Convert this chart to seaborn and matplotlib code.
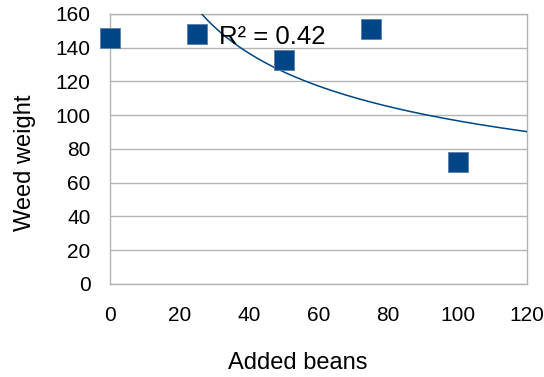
import numpy as np
import pandas as pd
import seaborn as sns
import matplotlib.pyplot as plt

# data
added_beans = [0, 25, 50, 75, 100]
weed_weight = [146, 148, 133, 151, 72]
x_ticks = [0, 20, 40, 60, 80, 100, 120]
y_ticks = [0, 20, 40, 60, 80, 100, 120, 140, 160]

blue = "#004586"
grey = "#b3b3b3"

sns.set_theme(style="white")
plt.rcParams['font.family'] = ['Liberation Sans', 'DejaVu Sans']

df = pd.DataFrame({"Added beans": added_beans, "Weed weight": weed_weight})

# power trendline y = a * x^b (fit on x > 0, like the spreadsheet does)
fit = df[df["Added beans"] > 0]
lx = np.log(fit["Added beans"].to_numpy(float))
ly = np.log(fit["Weed weight"].to_numpy(float))
b, lna = np.polyfit(lx, ly, 1)
r2 = np.corrcoef(lx, ly)[0, 1] ** 2
xs = np.linspace(1, 120, 400)
trend = pd.DataFrame({"x": xs, "y": np.exp(lna) * xs ** b})

fig = plt.figure(figsize=(5.44, 3.77), dpi=100)
ax = fig.add_axes([0.2022, 0.2467, 0.7666, 0.7162])

sns.lineplot(data=trend, x="x", y="y", color=blue, linewidth=1.1, ax=ax, zorder=3)
sns.scatterplot(data=df, x="Added beans", y="Weed weight", marker="s", s=190,
                color=blue, edgecolor="#5a7fae", linewidth=0.6, ax=ax, zorder=4,
                clip_on=False)

ax.text(31.5, 146.5, f"R² = {r2:.2f}", fontsize=18.5, ha="left", va="center",
        color="black", zorder=5)

ax.set_xlim(0, 120)
ax.set_ylim(0, 160)
ax.set_xticks(x_ticks)
ax.set_yticks(y_ticks)
ax.grid(axis="y", color=grey, linewidth=1)
ax.grid(axis="x", visible=False)
for sp in ax.spines.values():
    sp.set_color(grey)
    sp.set_linewidth(1)
ax.tick_params(axis="both", which="major", direction="out", length=7, width=1,
               color=grey, labelsize=15, labelcolor="black", pad=7)
ax.tick_params(axis="x", pad=9)
ax.set_xlabel("Added beans", fontsize=17, color="black")
ax.set_ylabel("Weed weight", fontsize=17, color="black")
ax.xaxis.set_label_coords(0.451, -0.293)
ax.yaxis.set_label_coords(-0.204, 0.448)
ax.xaxis.label.set_va("center")
ax.yaxis.label.set_va("center")

fig.savefig("out.png", dpi=100)
